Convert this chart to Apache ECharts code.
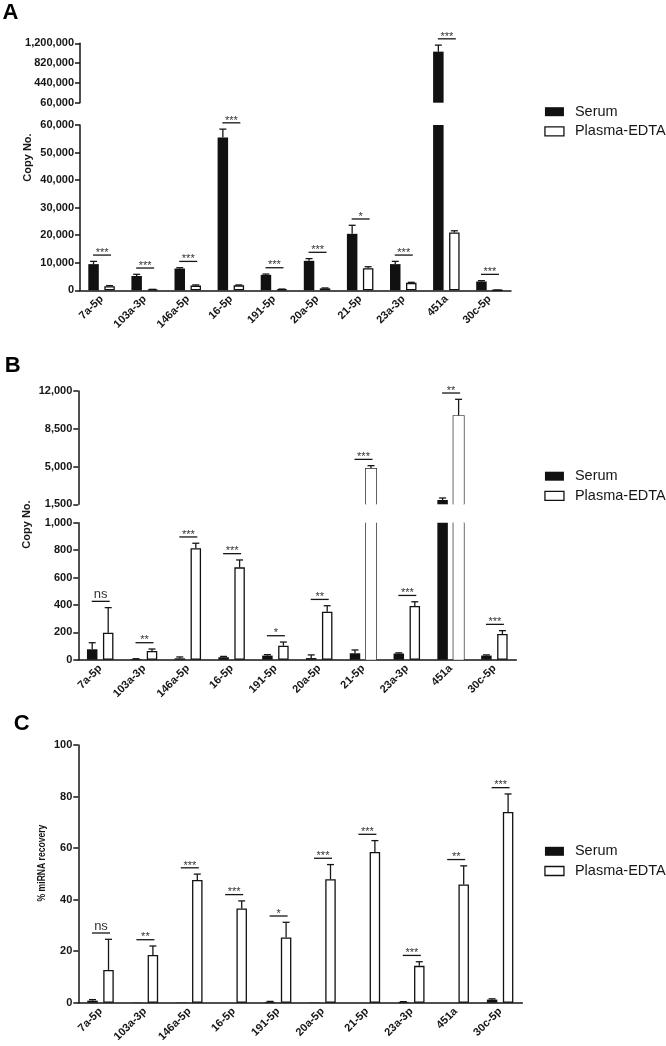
<!DOCTYPE html>
<html><head><meta charset="utf-8">
<script src="https://cdn.jsdelivr.net/npm/echarts@6/dist/echarts.min.js"></script>
<style>html,body{margin:0;padding:0;background:#fff}#c{width:666px;height:1046px}</style>
</head><body><div id="c"></div>
<script>
// ---------- data ----------
const categories = ['7a-5p','103a-3p','146a-5p','16-5p','191-5p','20a-5p','21-5p','23a-3p','451a','30c-5p'];
const seriesNames = ['Serum','Plasma-EDTA'];

// Panel A: copy number
const serumA     = [9500, 5200, 7900, 55500, 5600, 10700, 20500, 9500, 1040000, 3200];
const serumAErr  = [1000, 600, 300, 3000, 300, 800, 3100, 1000, 125000, 300];
const plasmaA    = [1500, 300, 1700, 1800, 400, 700, 8000, 2700, 21000, 50];
const plasmaAErr = [200, 50, 250, 150, 50, 150, 550, 200, 600, 10];
const sigA = ['***','***','***','***','***','***','*','***','***','***'];
const ticksAUpper = [60000, 440000, 820000, 1200000];
const ticksALower = [0, 10000, 20000, 30000, 40000, 50000, 60000];

// Panel B: copy number
const serumB     = [76, 5, 10, 18, 30, 12, 47, 45, 1900, 30];
const serumBErr  = [48, 2, 10, 6, 7, 23, 24, 5, 185, 5];
const plasmaB    = [197, 63, 813, 674, 102, 350, 4800, 392, 9700, 188];
const plasmaBErr = [183, 15, 37, 54, 27, 44, 280, 31, 1530, 24];
const sigB = ['ns','**','***','***','*','**','***','***','**','***'];
const ticksBUpper = [1500, 5000, 8500, 12000];
const ticksBLower = [0, 200, 400, 600, 800, 1000];

// Panel C: % miRNA recovery
const serumC     = [0.8, 0.1, 0.1, 0, 0.3, 0.1, 0, 0.3, 0, 1.2];
const serumCErr  = [0.4, 0, 0, 0, 0.2, 0, 0, 0.1, 0, 0.3];
const plasmaC    = [12.7, 18.5, 47.6, 36.6, 25.3, 47.9, 58.5, 14.3, 45.9, 74];
const plasmaCErr = [11.9, 3.5, 2.3, 2.9, 5.9, 5.7, 4.4, 1.6, 7.2, 7];
const sigC = ['ns','**','***','***','*','***','***','***','**','***'];
const ticksC = [0, 20, 40, 60, 80, 100];

// ---------- layout / style ----------
const FONT = '"Liberation Sans", Arial, Helvetica, sans-serif';
const INK = '#161616';
const BW = 10.5, GAP = 5.5;
const OFF = (BW + GAP) / 2;

const panels = [
  { letter:'A', lx:10.5, ly:12.5, title:'Copy No.', tx:27.5, ty:157.5, tscale:1,
    serum:serumA, serumErr:serumAErr, plasma:plasmaA, plasmaErr:plasmaAErr, sig:sigA,
    left:80, width:431, legendTop:99.2,
    segs:[{top:43.3, height:59.4, min:60000, max:1200000, ticks:ticksAUpper},
          {top:125, height:165.3, min:0, max:60000, ticks:ticksALower}] },
  { letter:'B', lx:12.8, ly:365.8, title:'Copy No.', tx:26.5, ty:524.5, tscale:1,
    serum:serumB, serumErr:serumBErr, plasma:plasmaB, plasmaErr:plasmaBErr, sig:sigB,
    left:78.3, width:438, legendTop:463.7,
    segs:[{top:391, height:113.3, min:1500, max:12000, ticks:ticksBUpper},
          {top:522.7, height:137, min:0, max:1000, ticks:ticksBLower}] },
  { letter:'C', lx:21.7, ly:724, title:'% miRNA recovery', tx:41.7, ty:863, tscale:0.78,
    serum:serumC, serumErr:serumCErr, plasma:plasmaC, plasmaErr:plasmaCErr, sig:sigC,
    left:78.3, width:444, legendTop:838.8,
    segs:[{top:745, height:257.7, min:0, max:100, ticks:ticksC}] }
];

const grid = [], xAxis = [], yAxis = [], series = [], legend = [], graphic = [];
const fmt = v => v.toLocaleString('en-US');

panels.forEach(p => {
  graphic.push({type:'text', x:p.lx, y:p.ly, silent:true,
    style:{text:p.letter, font:'bold 22px ' + FONT, fill:'#000', align:'center', verticalAlign:'middle'}});
  graphic.push({type:'text', x:p.tx, y:p.ty, rotation:Math.PI/2, scaleX:p.tscale, silent:true,
    style:{text:p.title, font:'bold 11px ' + FONT, fill:INK, align:'center', verticalAlign:'middle'}});

  legend.push({
    orient:'vertical', left:539.3, top:p.legendTop, itemWidth:19, itemHeight:9, itemGap:4.7,
    selectedMode:false, icon:'rect',
    textStyle:{fontFamily:FONT, fontSize:14.5, color:INK, lineHeight:15, padding:[0,0,0,6]},
    data:[{name:'Serum', itemStyle:{color:'#111', borderWidth:0}},
          {name:'Plasma-EDTA', itemStyle:{color:'#fff', borderColor:'#111', borderWidth:1.3}}]
  });

  const nSeg = p.segs.length;
  p.segs.forEach((s, si) => {
    const gi = grid.length;
    const isBottom = si === nSeg - 1;
    const isTopSeg = s.min > 0;
    grid.push({left:p.left, top:s.top, width:p.width, height:s.height, containLabel:false, outerBoundsMode:'none'});
    xAxis.push({
      type:'category', gridIndex:gi, data:categories, show:isBottom,
      axisLine:{lineStyle:{color:INK, width:1.5}},
      axisTick:{alignWithLabel:true, length:4, lineStyle:{color:INK, width:1.5}},
      axisLabel:{interval:0, rotate:45, fontFamily:FONT, fontWeight:'bold', fontSize:11, color:INK, margin:7}
    });
    yAxis.push({
      type:'value', gridIndex:gi, min:s.min, max:s.max, splitLine:{show:false},
      axisLine:{show:true, lineStyle:{color:INK, width:1.5}},
      axisTick:{show:true, length:5, customValues:s.ticks, lineStyle:{color:INK, width:1.5}},
      axisLabel:{customValues:s.ticks, formatter:fmt, fontFamily:FONT, fontWeight:'bold', fontSize:11, color:INK, margin:6}
    });
    const inSeg = v => (isTopSeg ? v > s.min : true);
    const plasmaClipped = v => isTopSeg || v > s.max;

    series.push({
      type:'bar', name:'Serum', xAxisIndex:gi, yAxisIndex:gi, barWidth:BW, barGap:(GAP/BW*100)+'%',
      clip:true, silent:true,
      itemStyle:{color:'#111'},
      data:p.serum.map(v => inSeg(v) ? v : '-')
    });
    series.push({
      type:'bar', name:'Plasma-EDTA', xAxisIndex:gi, yAxisIndex:gi, barWidth:BW, barGap:(GAP/BW*100)+'%',
      clip:true, silent:true,
      itemStyle:{color:'#fff', borderColor:'#111', borderWidth:1.3},
      data:p.plasma.map(v => inSeg(v) ? (plasmaClipped(v) ? {value:v, itemStyle:{borderWidth:0}} : v) : '-')
    });
    // error bars + open-ended outlines of broken bars
    series.push({
      type:'custom', xAxisIndex:gi, yAxisIndex:gi, silent:true,
      data:categories.map((c, i) => [i, s.min]),
      encode:{x:0, y:1},
      renderItem:(params, api) => {
        const i = params.dataIndex;
        const cs = params.coordSys;
        const yMin = cs.y, yMax = cs.y + cs.height;
        const cx = api.coord([i, s.min])[0];
        const kids = [];
        const ls = {stroke:INK, lineWidth:1.3, fill:null};
        [[p.serum, p.serumErr, -1], [p.plasma, p.plasmaErr, 1]].forEach(([vals, errs, sg]) => {
          const v = vals[i], e = errs[i];
          const x = cx + sg * OFF;
          if (sg > 0 && inSeg(v) && plasmaClipped(v)) {
            const yt = api.coord([i, v])[1];
            const yb = yMax;
            const xl = x - BW/2, xr = x + BW/2;
            if (yt < yMin) {
              kids.push({type:'line', shape:{x1:xl, y1:yMin, x2:xl, y2:yb}, style:ls});
              kids.push({type:'line', shape:{x1:xr, y1:yMin, x2:xr, y2:yb}, style:ls});
            } else {
              kids.push({type:'polyline', shape:{points:[[xl,yb],[xl,yt],[xr,yt],[xr,yb]]}, style:ls});
            }
          }
          if (e > 0) {
            const y1 = Math.min(api.coord([i, v])[1], yMax);
            const y2 = api.coord([i, v + e])[1];
            if (y2 >= yMin - 0.5 && y2 <= yMax) {
              kids.push({type:'line', shape:{x1:x, y1:y1, x2:x, y2:y2}, style:ls});
              kids.push({type:'line', shape:{x1:x - 3.5, y1:y2, x2:x + 3.5, y2:y2}, style:ls});
            }
          }
        });
        return {type:'group', children:kids};
      }
    });
    // significance annotations
    series.push({
      type:'custom', xAxisIndex:gi, yAxisIndex:gi, silent:true,
      data:categories.map((c, i) => [i, Math.max(p.serum[i] + p.serumErr[i], p.plasma[i] + p.plasmaErr[i])]),
      encode:{x:0, y:1},
      renderItem:(params, api) => {
        const i = params.dataIndex;
        const top = Math.max(p.serum[i] + p.serumErr[i], p.plasma[i] + p.plasmaErr[i]);
        if (top < s.min || top > s.max) return null;
        const cx = api.coord([i, top])[0];
        const y = api.coord([i, top])[1] - 6.3;
        const isNs = p.sig[i] === 'ns';
        return {type:'group', children:[
          {type:'line', shape:{x1:cx - 8.5, y1:y, x2:cx + 9.5, y2:y}, style:{stroke:INK, lineWidth:1.3}},
          {type:'text', x:cx + 0.5, y: isNs ? y - 6.8 : y - 2.3,
           style:{text:p.sig[i], font:(isNs ? '13px ' : '11px ') + FONT, fill:'#333', align:'center', verticalAlign:'middle'}}
        ]};
      }
    });
  });
});

const chart = echarts.init(document.getElementById('c'), null, {renderer:'canvas'});
chart.setOption({
  animation:false,
  backgroundColor:'#fff',
  grid, xAxis, yAxis, series, legend, graphic
});
</script>
</body></html>
